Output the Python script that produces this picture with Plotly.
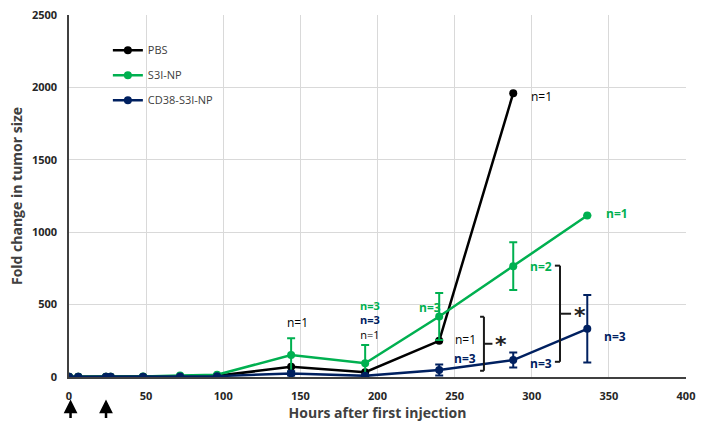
import plotly.graph_objects as go

hours = [0, 6, 24, 27, 48, 72, 96, 144, 192, 240, 288, 336]

pbs_hours = [0, 6, 24, 27, 48, 72, 96, 144, 192, 240, 288]
pbs_vals = [1, 1, 1, 1, 2, 5, 8, 70, 33, 250, 1960]

s3i_vals = [1, 1, 1, 1, 4, 10, 15, 152, 95, 418, 765, 1115]
s3i_err = [0, 0, 0, 0, 2, 4, 5, 115, 126, 162, 165, 0]

cd38_vals = [1, 1, 1, 1, 2, 4, 6, 25, 8, 48, 117, 333]
cd38_err = [0, 0, 0, 0, 1, 2, 2, 15, 5, 38, 52, 233]

series_names = ["PBS", "S3I-NP", "CD38-S3I-NP"]
colors = ["#000000", "#00B050", "#002060"]

# n labels: (x, y, text, color index)
n_labels = [
    (148, 373, "n=1", 0),
    (234, 483, "n=3", 1),
    (257, 256, "n=1", 0),
    (257, 129, "n=3", 2),
    (306, 762, "n=2", 1),
    (306, 95, "n=3", 2),
    (355, 1131, "n=1", 1),
    (354, 278, "n=3", 2),
    (306, 1936, "n=1", 0),
]
# stacked labels at 192 h (top to bottom)
stack_pos = (195, 394)
stack_labels = [("n=3", 1), ("n=3", 2), ("n=1", 0)]

injection_hours = [1, 24]

x_ticks = [0, 50, 100, 150, 200, 250, 300, 350, 400]
y_ticks = [0, 500, 1000, 1500, 2000, 2500]

FONT = "Open Sans"

fig = go.Figure()

fig.add_trace(go.Scatter(
    x=pbs_hours, y=pbs_vals, name=series_names[0], mode="lines+markers",
    line=dict(color=colors[0], width=2.5), marker=dict(color=colors[0], size=8),
    legendgroup="a"))
fig.add_trace(go.Scatter(
    x=hours, y=s3i_vals, name=series_names[1], mode="lines+markers",
    line=dict(color=colors[1], width=2.5), marker=dict(color=colors[1], size=8),
    error_y=dict(type="data", array=s3i_err, color=colors[1], thickness=2, width=4),
    legendgroup="b"))
fig.add_trace(go.Scatter(
    x=hours, y=cd38_vals, name=series_names[2], mode="lines+markers",
    line=dict(color=colors[2], width=2.5), marker=dict(color=colors[2], size=8),
    error_y=dict(type="data", array=cd38_err, color=colors[2], thickness=2, width=4),
    legendgroup="c"))

def fmt(t, ci):
    return t if ci == 0 else "<b>" + t + "</b>"

annotations = []
for x, y, t, ci in n_labels:
    annotations.append(dict(
        x=x, y=y, xref="x", yref="y", text=fmt(t, ci),
        showarrow=False, font=dict(family=FONT, size=12, color=colors[ci]),
        xanchor="center", yanchor="middle"))

stack_text = "<br>".join(
    '<span style="color:%s">%s</span>' % (colors[ci], fmt(t, ci)) for t, ci in stack_labels)
annotations.append(dict(
    x=stack_pos[0], y=stack_pos[1], xref="x", yref="y", text=stack_text,
    showarrow=False, font=dict(family=FONT, size=11, color="#000000"),
    xanchor="center", yanchor="middle"))

# significance stars
for sx, sy in [(280, 225), (331, 428)]:
    annotations.append(dict(
        x=sx, y=sy, xref="x", yref="y", text="<b>*</b>", showarrow=False,
        font=dict(family="DejaVu Sans", size=22, color="#222222"),
        xanchor="center", yanchor="middle"))

# injection arrows
for h in injection_hours:
    annotations.append(dict(
        x=h, y=-0.062, xref="x", yref="paper", ax=0, ay=20, text="",
        showarrow=True, arrowhead=2, arrowsize=1.1, arrowwidth=2.5,
        arrowcolor="#000000"))

shapes = []
for xv, y0, y1, xl, xr in [(269, 43, 416, 266.5, 274.5), (318.3, 105, 769, 315, 325.5)]:
    ym = (y0 + y1) / 2
    lc = dict(color="#1a1a1a", width=2)
    shapes.append(dict(type="line", xref="x", yref="y", x0=xv, x1=xv, y0=y0, y1=y1, line=lc))
    shapes.append(dict(type="line", xref="x", yref="y", x0=xl, x1=xv, y0=y0, y1=y0, line=lc))
    shapes.append(dict(type="line", xref="x", yref="y", x0=xl, x1=xv, y0=y1, y1=y1, line=lc))
    shapes.append(dict(type="line", xref="x", yref="y", x0=xv, x1=xr, y0=ym, y1=ym, line=lc))

fig.update_layout(
    width=702, height=428,
    margin=dict(l=69, r=16, t=15, b=51),
    paper_bgcolor="white", plot_bgcolor="white",
    font=dict(family=FONT, color="#262626"),
    showlegend=True,
    legend=dict(x=0.063, y=0.943, xanchor="left", yanchor="top",
                bgcolor="rgba(0,0,0,0)", font=dict(family=FONT, size=11, color="#404040"),
                traceorder="grouped", tracegroupgap=6, itemwidth=30),
    annotations=annotations,
    shapes=shapes,
    xaxis=dict(range=[0, 400], tickvals=x_ticks, ticktext=["<b>%d</b>" % v for v in x_ticks],
               showgrid=True, gridcolor="#d9d9d9", gridwidth=1, automargin=False,
               showline=True, linecolor="#404040", linewidth=1.5, zeroline=False,
               ticks="", ticklabelstandoff=8,
               tickfont=dict(family=FONT, size=11, color="#262626"),
               title=dict(text="<b>Hours after first injection</b>",
                          font=dict(family=FONT, size=14, color="#404040"), standoff=6)),
    yaxis=dict(range=[0, 2500], tickvals=y_ticks, ticktext=["<b>%d</b>" % v for v in y_ticks],
               showgrid=True, gridcolor="#d9d9d9", gridwidth=1, automargin=False,
               showline=True, linecolor="#404040", linewidth=1.5, zeroline=False,
               ticks="", ticklabelstandoff=8,
               tickfont=dict(family=FONT, size=11, color="#262626"),
               title=dict(text="<b>Fold change in tumor size</b>",
                          font=dict(family=FONT, size=14, color="#404040"), standoff=6)),
)

fig.write_html("out.html", config={"displayModeBar": False},
               post_script="document.body.style.margin='0';document.body.style.overflow='hidden';")
